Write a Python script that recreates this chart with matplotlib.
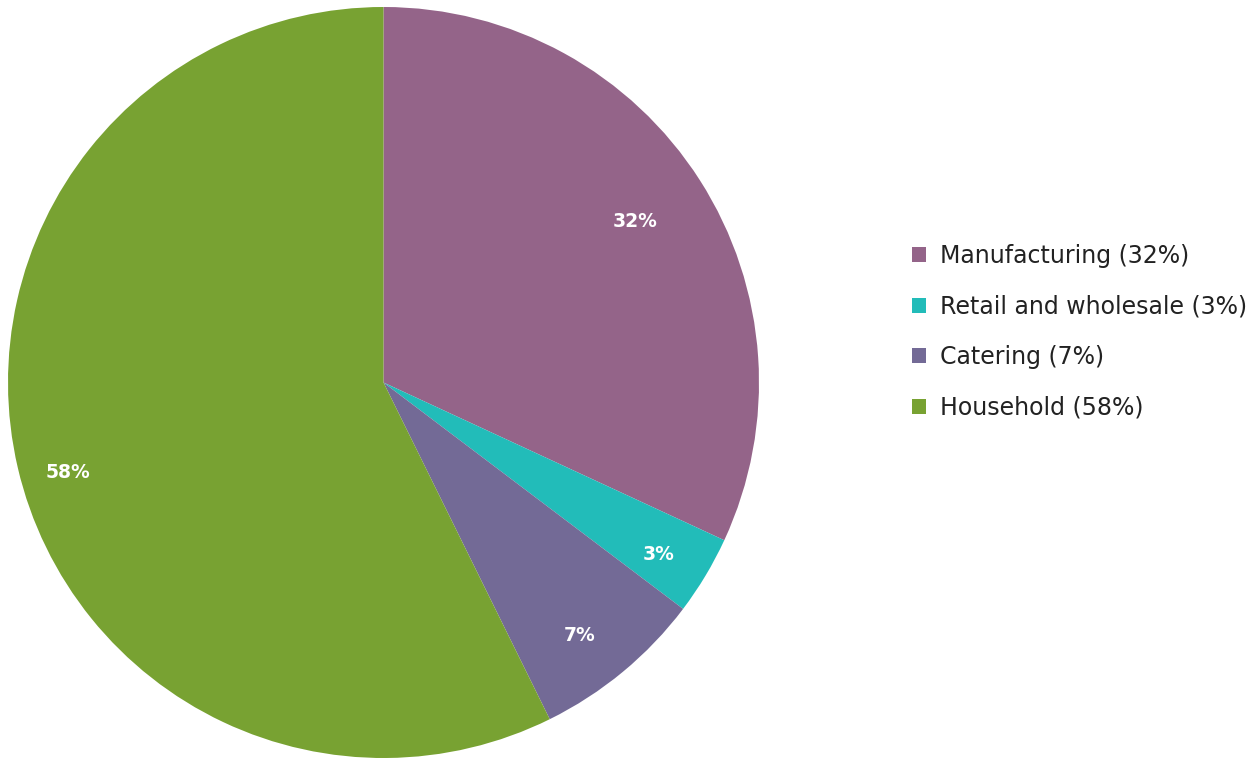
import numpy as np
import matplotlib.pyplot as plt
import matplotlib as mpl

mpl.rcParams['font.family'] = ['DejaVu Sans']

# Data
sectors = ['Manufacturing', 'Retail and wholesale', 'Catering', 'Household']
shares = [31.9, 3.4, 7.4, 57.3]
pct_labels = ['32%', '3%', '7%', '58%']
legend_labels = ['Manufacturing (32%)', 'Retail and wholesale (3%)',
                 'Catering (7%)', 'Household (58%)']
colors = ['#946489', '#22bcb9', '#736a96', '#78a232']

# label placement: radius (fraction of pie) and angular nudge (deg)
label_r = [0.795, 0.863, 0.853, 0.874]
label_nudge = [0.0, -1.1, -1.8, 2.8]

fig = plt.figure(figsize=(12.56, 7.6), dpi=100)
ax = fig.add_axes([8/1256, 2/760, 751/1256, 751/760])

wedges, _ = ax.pie(shares, colors=colors, startangle=90, counterclock=False,
                   radius=1.0, wedgeprops=dict(linewidth=0))
ax.set_xlim(-1, 1)
ax.set_ylim(-1, 1)
ax.set_aspect('equal')

for w, lab, r, dn in zip(wedges, pct_labels, label_r, label_nudge):
    ang = np.deg2rad((w.theta1 + w.theta2) / 2 + dn)
    ax.text(r*np.cos(ang), r*np.sin(ang), lab, ha='center', va='center',
            color='white', fontsize=13.5, fontweight='bold')

leg = fig.legend(wedges, legend_labels, loc='upper left',
                 bbox_to_anchor=(912/1256, 1-244/760), frameon=False,
                 borderpad=0, borderaxespad=0,
                 fontsize=17, handlelength=0.6, handleheight=0.6,
                 handletextpad=0.6, labelspacing=1.12, labelcolor='#222222')

fig.savefig('out.png', dpi=100)
